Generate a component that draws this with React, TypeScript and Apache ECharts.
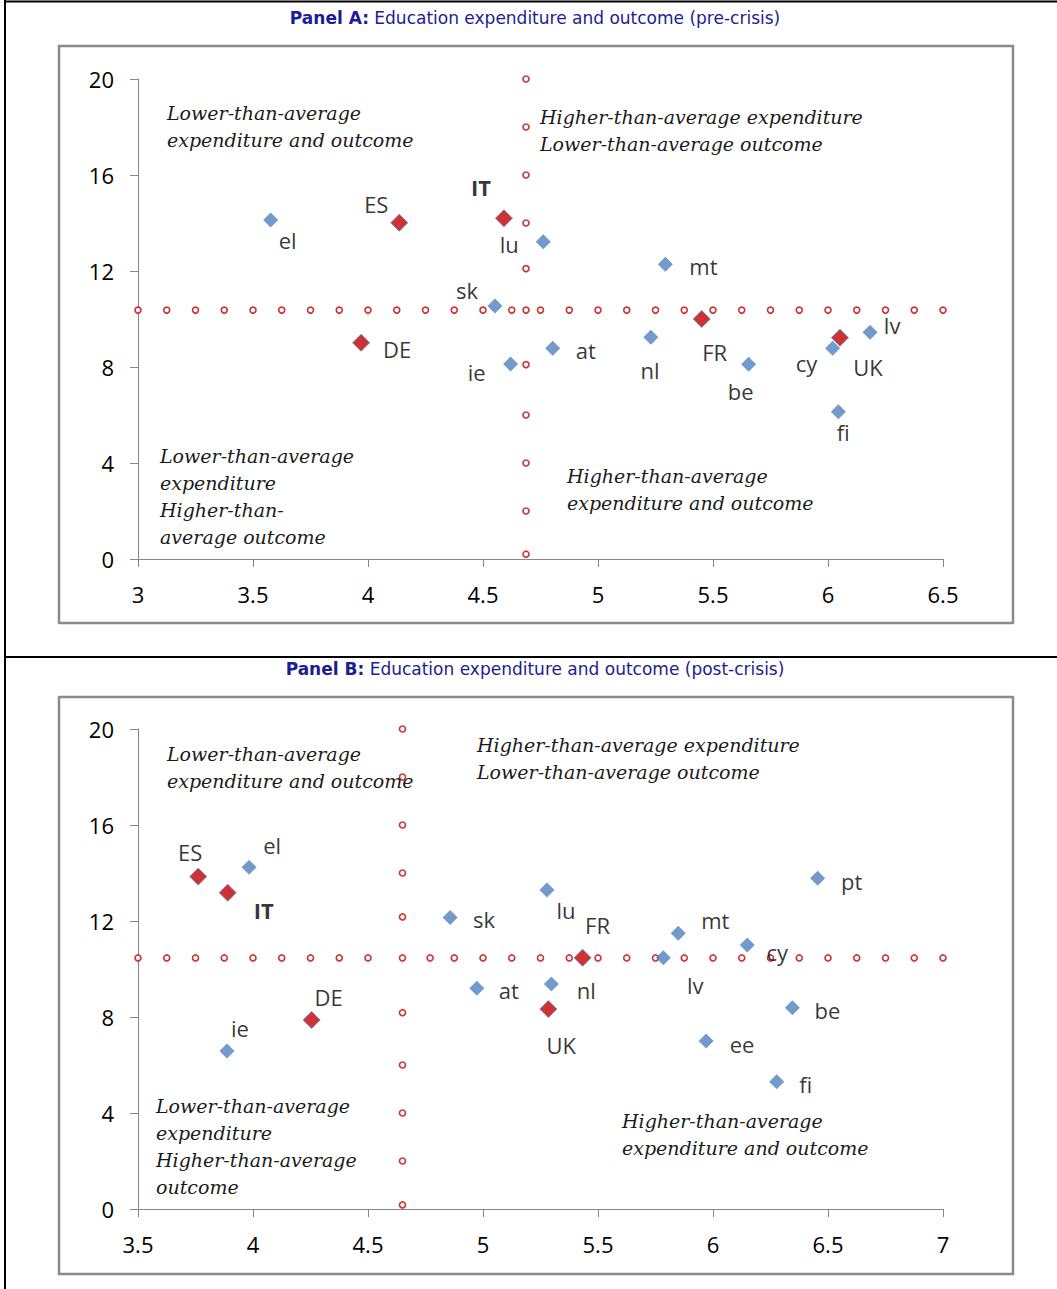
import React, { useEffect, useRef } from "react";
import * as echarts from "echarts";

// ---------- Panel A (pre-crisis) ----------
const blueNamesA = ["el", "lu", "sk", "mt", "ie", "at", "nl", "be", "cy", "lv", "fi"];
const blueXA = [3.577, 4.762, 4.552, 5.293, 4.62, 4.803, 5.23, 5.655, 6.02, 6.183, 6.045];
const blueYA = [14.125, 13.22, 10.54, 12.28, 8.125, 8.78, 9.24, 8.11, 8.78, 9.45, 6.14];
const redNamesA = ["ES", "IT", "DE", "FR", "UK"];
const redXA = [4.136, 4.591, 3.97, 5.451, 6.052];
const redYA = [14.01, 14.2, 9.01, 10.0, 9.22];
const avgLineXA = [3, 3.125, 3.25, 3.375, 3.5, 3.625, 3.75, 3.875, 4, 4.125, 4.25, 4.375, 4.5, 4.625, 4.75, 4.875, 5, 5.125, 5.25, 5.375, 5.5, 5.625, 5.75, 5.875, 6, 6.125, 6.25, 6.375, 6.5];
const avgOutcomeA = 10.37;
const avgExpA = 4.687;
const avgLineYA = [0.2, 2, 4, 6, 8.1, 10.37, 12.1, 14, 16, 18, 20];

// ---------- Panel B (post-crisis) ----------
const blueNamesB = ["el", "ie", "sk", "at", "lu", "nl", "lv", "mt", "cy", "pt", "be", "ee", "fi"];
const blueXB = [3.983, 3.887, 4.857, 4.973, 5.278, 5.297, 5.784, 5.849, 6.149, 6.455, 6.345, 5.97, 6.277];
const blueYB = [14.24, 6.58, 12.15, 9.2, 13.29, 9.38, 10.47, 11.49, 11.0, 13.78, 8.39, 7.0, 5.3];
const redNamesB = ["ES", "IT", "DE", "FR", "UK"];
const redXB = [3.762, 3.89, 4.255, 5.433, 5.284];
const redYB = [13.85, 13.18, 7.875, 10.47, 8.33];
const avgLineXB = [3.5, 3.625, 3.75, 3.875, 4, 4.125, 4.25, 4.375, 4.5, 4.77, 4.875, 5, 5.125, 5.25, 5.375, 5.5, 5.625, 5.75, 5.875, 6, 6.125, 6.25, 6.375, 6.5, 6.625, 6.75, 6.875, 7];
const avgOutcomeB = 10.46;
const avgExpB = 4.65;
const avgLineYB = [0.17, 2, 4, 6, 8.18, 10.46, 12.17, 14, 16, 18, 20];

// axis ticks
const xMinA = 3, xMaxA = 6.5;
const xMinB = 3.5, xMaxB = 7;
const yMin = 0, yMax = 20, yStep = 4, xStep = 0.5;

const titleA = "Education expenditure and outcome (pre-crisis)";
const titleB = "Education expenditure and outcome (post-crisis)";

// label layout (pixel offsets from marker centre)
const blueOffA = [[17, 20], [-34, 2], [-28, -16], [38, 2], [-34, 8], [33, 2], [-1, 33], [-8, 27], [-26, 15], [22, -7], [5, 20]];
const redOffA = [[-23, -19], [-23, -31], [36, 6], [13, 33], [28, 29]];
const blueOffB = [[23, -22], [13, -23], [34, 2], [32, 2], [19, 20], [35, 6], [32, 27], [37, -13], [30, 7], [34, 3], [35, 2], [36, 3], [29, 2]];
const redOffB = [[-8, -25], [36, 17], [17, -23], [15, -33], [13, 36]];

const LABEL_FONT = "Open Sans";
const BLUE = "#4F81BD";
const RED = "#C00000";

function pts(names: string[], xs: number[], ys: number[], offs: number[][], boldSet: string[]) {
  return names.map((n, i) => ({
    name: n,
    value: [xs[i], ys[i]],
    label: {
      offset: offs[i],
      fontWeight: boldSet.indexOf(n) >= 0 ? "bold" : "normal",
    },
  }));
}

function seriesFor(idx: number, blue: any[], red: any[], hx: number[], hy: number, vx: number, vy: number[]) {
  const dotStyle = { color: "#ffffff", borderColor: RED, borderWidth: 1.6 };
  const labelBase = {
    show: true,
    position: "inside",
    formatter: "{b}",
    fontFamily: LABEL_FONT,
    fontSize: 22,
    color: "#000",
    align: "center",
    verticalAlign: "middle",
  };
  return [
    {
      type: "scatter",
      xAxisIndex: idx,
      yAxisIndex: idx,
      symbol: "circle",
      symbolSize: 6,
      itemStyle: dotStyle,
      data: hx.map((x) => [x, hy]),
      z: 1,
      silent: true,
    },
    {
      type: "scatter",
      xAxisIndex: idx,
      yAxisIndex: idx,
      symbol: "circle",
      symbolSize: 6,
      itemStyle: dotStyle,
      data: vy.map((y) => [vx, y]),
      z: 1,
      silent: true,
    },
    {
      type: "scatter",
      xAxisIndex: idx,
      yAxisIndex: idx,
      symbol: "diamond",
      symbolSize: 15,
      itemStyle: { color: BLUE },
      label: labelBase,
      data: blue,
      z: 3,
    },
    {
      type: "scatter",
      xAxisIndex: idx,
      yAxisIndex: idx,
      symbol: "diamond",
      symbolSize: 17,
      itemStyle: { color: RED, borderColor: "#5b86c5", borderWidth: 1 },
      label: labelBase,
      data: red,
      z: 4,
    },
  ];
}

function quadText(x: number, y: number, text: string) {
  return {
    type: "text",
    x,
    y,
    z: 10,
    style: {
      text,
      fontFamily: "DejaVu Serif",
      fontStyle: "italic",
      fontSize: 19,
      lineHeight: 27,
      fill: "#1a1a1a",
      align: "left",
      verticalAlign: "top",
    },
  };
}

function titleText(y: number, label: string, text: string) {
  return {
    type: "text",
    x: 535,
    y,
    z: 10,
    style: {
      text: `{b|${label}} ${text}`,
      fontFamily: "DejaVu Sans",
      fontSize: 17,
      fill: "#1c1c94",
      align: "center",
      verticalAlign: "middle",
      rich: {
        b: { fontFamily: "DejaVu Sans", fontSize: 17, fontWeight: "bold", fill: "#1c1c94" },
      },
    },
  };
}

export default function App() {
  const ref = useRef<HTMLDivElement>(null);
  useEffect(() => {
    if (!ref.current) return;
    const chart = echarts.init(ref.current, null, { renderer: "svg" });
    const axisCommon = {
      axisLine: { show: true, onZero: false, lineStyle: { color: "#868686", width: 1 } },
      axisTick: { show: true, length: 8, lineStyle: { color: "#868686" } },
      splitLine: { show: false },
      axisLabel: { fontFamily: LABEL_FONT, fontSize: 22, color: "#000", margin: 24 },
    };
    const blueA = pts(blueNamesA, blueXA, blueYA, blueOffA, []);
    const redA = pts(redNamesA, redXA, redYA, redOffA, ["IT"]);
    const blueB = pts(blueNamesB, blueXB, blueYB, blueOffB, []);
    const redB = pts(redNamesB, redXB, redYB, redOffB, ["IT"]);

    const option: any = {
      animation: false,
      backgroundColor: "#ffffff",
      grid: [
        { left: 138, top: 79, width: 805, height: 480 },
        { left: 138, top: 729, width: 805, height: 480 },
      ],
      xAxis: [
        { ...axisCommon, type: "value", gridIndex: 0, min: xMinA, max: xMaxA, interval: xStep },
        { ...axisCommon, type: "value", gridIndex: 1, min: xMinB, max: xMaxB, interval: xStep },
      ],
      yAxis: [
        { ...axisCommon, type: "value", gridIndex: 0, min: yMin, max: yMax, interval: yStep },
        { ...axisCommon, type: "value", gridIndex: 1, min: yMin, max: yMax, interval: yStep },
      ],
      series: [
        ...seriesFor(0, blueA, redA, avgLineXA, avgOutcomeA, avgExpA, avgLineYA),
        ...seriesFor(1, blueB, redB, avgLineXB, avgOutcomeB, avgExpB, avgLineYB),
      ],
      graphic: [
        // page rules
        { type: "line", shape: { x1: 5, y1: 0, x2: 5, y2: 1289 }, style: { stroke: "#000", lineWidth: 2 } },
        { type: "line", shape: { x1: 5, y1: 1.5, x2: 1057, y2: 1.5 }, style: { stroke: "#000", lineWidth: 2 } },
        { type: "line", shape: { x1: 5, y1: 657, x2: 1057, y2: 657 }, style: { stroke: "#000", lineWidth: 2 } },
        // chart frames
        { type: "rect", shape: { x: 59, y: 46, width: 954, height: 577 }, style: { fill: "none", stroke: "#8a8a8a", lineWidth: 2.5 } },
        { type: "rect", shape: { x: 59, y: 697, width: 954, height: 577 }, style: { fill: "none", stroke: "#8a8a8a", lineWidth: 2.5 } },
        titleText(18, "Panel A:", titleA),
        titleText(669, "Panel B:", titleB),
        quadText(167, 99.5, "Lower-than-average\nexpenditure and outcome"),
        quadText(540, 103.5, "Higher-than-average expenditure\nLower-than-average outcome"),
        quadText(160, 442.5, "Lower-than-average\nexpenditure\nHigher-than-\naverage outcome"),
        quadText(567, 462.5, "Higher-than-average\nexpenditure and outcome"),
        quadText(167, 740.5, "Lower-than-average\nexpenditure and outcome"),
        quadText(477, 731.5, "Higher-than-average expenditure\nLower-than-average outcome"),
        quadText(156, 1092.5, "Lower-than-average\nexpenditure\nHigher-than-average\noutcome"),
        quadText(622, 1107.5, "Higher-than-average\nexpenditure and outcome"),
      ],
    };
    chart.setOption(option);
    return () => chart.dispose();
  }, []);
  return (
    <div
      ref={ref}
      style={{ position: "absolute", left: 0, top: 0, width: 1057, height: 1289, background: "#fff" }}
    />
  );
}
